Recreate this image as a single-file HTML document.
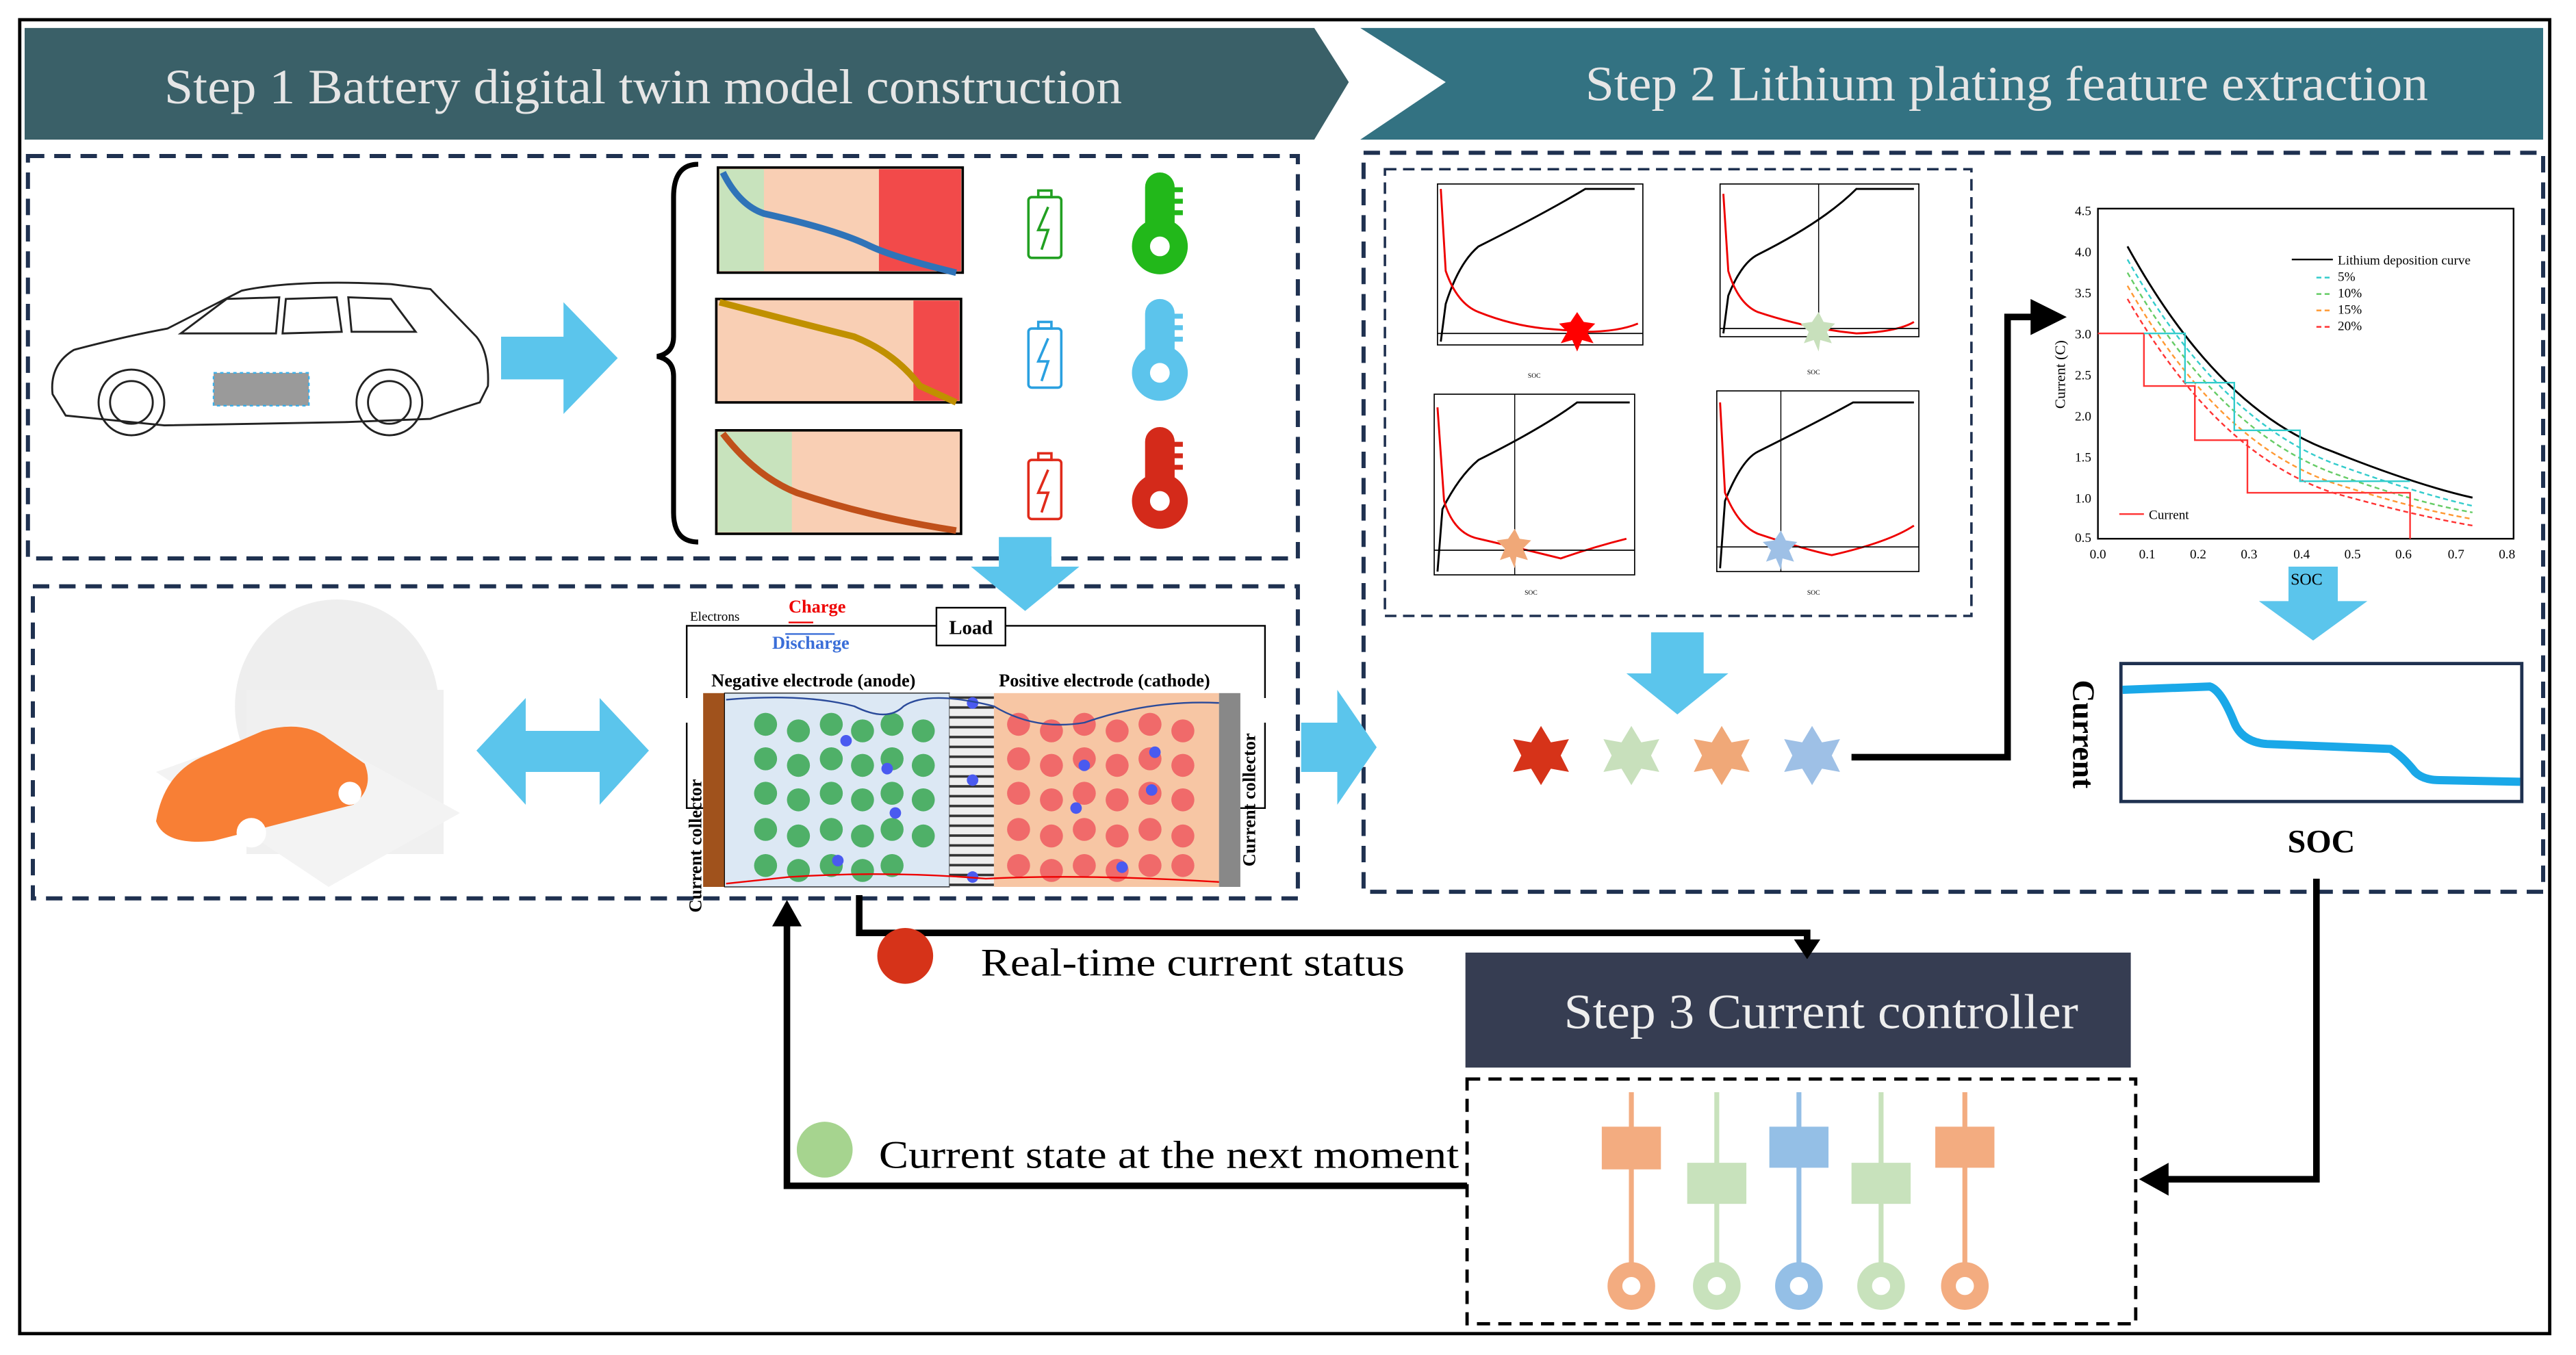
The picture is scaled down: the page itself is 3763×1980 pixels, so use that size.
<!DOCTYPE html>
<html><head><meta charset="utf-8"><style>
html,body{margin:0;padding:0;background:#fff}
svg{display:block}
text{font-family:"Liberation Serif",serif}
</style></head><body>
<svg width="3763" height="1980" viewBox="0 0 1568 825" xmlns="http://www.w3.org/2000/svg">
<defs>
<pattern id="stripes" width="4" height="6" patternUnits="userSpaceOnUse"><rect width="4" height="6" fill="#eee"/><rect y="4" width="4" height="1.5" fill="#333"/></pattern>
</defs>
<rect x="0" y="0" width="1568" height="825" fill="#fff"/>
<rect x="12" y="12" width="1540" height="800" fill="none" stroke="#000" stroke-width="2"/>
<!-- banners -->
<polygon points="15,17 800,17 821,50 800,85 15,85" fill="#3a6068"/>
<text x="100" y="63" font-size="30" fill="#e6e6e6" textLength="583" lengthAdjust="spacingAndGlyphs">Step 1 Battery digital twin model construction</text>
<polygon points="828,17 1548,17 1548,85 828,85 880,50" fill="#337282"/>
<text x="965" y="61" font-size="30" fill="#e6e6e6" textLength="513" lengthAdjust="spacingAndGlyphs">Step 2 Lithium plating feature extraction</text>
<!-- dashed boxes -->
<g fill="none" stroke="#1f3150" stroke-width="2.5" stroke-dasharray="10,6">
<rect x="17" y="95" width="773" height="245"/>
<rect x="20" y="357" width="770" height="190"/>
<rect x="830" y="93" width="718" height="450"/>
<rect x="843" y="103" width="357" height="272" stroke-width="1.5" stroke-dasharray="7,4"/>
</g>
<rect x="893" y="657" width="407" height="149" fill="none" stroke="#000" stroke-width="2" stroke-dasharray="8,5"/>
<!-- car -->
<g fill="none" stroke="#222" stroke-width="1.2">
<path d="M32,240 Q30,222 45,213 Q75,205 102,200 L147,177 Q180,170 238,173 L262,176 L290,205 Q298,215 297,235 L292,245 Q270,252 262,255 L210,257 L100,259 L40,253 Z"/>
<path d="M110,203 L138,182 L170,181 L168,203 Z"/><path d="M174,182 L205,181 L208,202 L172,203 Z"/><path d="M212,181 L238,182 L253,202 L214,202 Z"/>
<circle cx="80" cy="245" r="20"/><circle cx="80" cy="245" r="13"/><circle cx="237" cy="245" r="20"/><circle cx="237" cy="245" r="13"/>
</g>
<rect x="130" y="227" width="58" height="20" fill="#9a9a9a" stroke="#3bb0ea" stroke-dasharray="2,2"/>
<!-- arrow right -->
<polygon points="305,205 343,205 343,184 376,218 343,252 343,231 305,231" fill="#5bc5ec"/>
<!-- brace -->
<path d="M425,100 Q410,100 410,120 L410,205 Q410,215 400,217 Q410,219 410,229 L410,312 Q410,330 425,330" fill="none" stroke="#000" stroke-width="3"/>
<!-- charts -->
<g stroke="#000" stroke-width="1.5">
<rect x="437" y="102" width="149" height="64" fill="#f9cfb4"/>
<rect x="436" y="182" width="149" height="63" fill="#f9cfb4"/>
<rect x="436" y="262" width="149" height="63" fill="#f9cfb4"/>
</g>
<rect x="438" y="103" width="27" height="62" fill="#c8e3bd"/><rect x="535" y="103" width="50" height="62" fill="#f24a4a"/>
<rect x="556" y="183" width="28" height="61" fill="#f24a4a"/>
<rect x="437" y="263" width="45" height="61" fill="#c8e3bd"/>
<path d="M440,105 Q450,125 465,130 Q510,140 530,150 Q545,157 582,166" fill="none" stroke="#2f73b8" stroke-width="4"/>
<path d="M438,184 Q480,195 520,205 Q545,215 560,235 L582,245" fill="none" stroke="#c09000" stroke-width="4"/>
<path d="M440,264 Q460,290 485,300 Q530,315 582,323" fill="none" stroke="#c0501a" stroke-width="4"/>
<!-- batteries -->
<g fill="none" stroke-width="1.5">
<rect x="626" y="120" width="20" height="37" rx="2" stroke="#22a022"/><rect x="632" y="116" width="8" height="4" stroke="#22a022"/><path d="M638,126 L632,140 L638,140 L634,152" stroke="#22a022"/>
<rect x="626" y="200" width="20" height="36" rx="2" stroke="#2aa0e0"/><rect x="632" y="196" width="8" height="4" stroke="#2aa0e0"/><path d="M638,206 L632,220 L638,220 L634,232" stroke="#2aa0e0"/>
<rect x="626" y="280" width="20" height="36" rx="2" stroke="#e02a1a"/><rect x="632" y="276" width="8" height="4" stroke="#e02a1a"/><path d="M638,286 L632,300 L638,300 L634,312" stroke="#e02a1a"/>
</g>
<!-- thermometers -->
<g>
<g fill="#22b81a"><rect x="697" y="105" width="18" height="45" rx="9"/><circle cx="706" cy="150" r="17"/><rect x="713" y="114" width="7" height="3"/><rect x="713" y="121" width="7" height="3"/><rect x="713" y="128" width="7" height="3"/></g><circle cx="706" cy="150" r="6" fill="#fff"/>
<g fill="#5cc4ec"><rect x="697" y="182" width="18" height="45" rx="9"/><circle cx="706" cy="227" r="17"/><rect x="713" y="191" width="7" height="3"/><rect x="713" y="198" width="7" height="3"/><rect x="713" y="205" width="7" height="3"/></g><circle cx="706" cy="227" r="6" fill="#fff"/>
<g fill="#d42a1a"><rect x="697" y="260" width="18" height="45" rx="9"/><circle cx="706" cy="305" r="17"/><rect x="713" y="269" width="7" height="3"/><rect x="713" y="276" width="7" height="3"/><rect x="713" y="283" width="7" height="3"/></g><circle cx="706" cy="305" r="6" fill="#fff"/>
</g>
<!-- down arrow -->
<polygon points="608,327 640,327 640,345 657,345 624,372 591,345 608,345" fill="#5bc5ec"/>
<!-- cloud car image -->
<ellipse cx="205" cy="430" rx="62" ry="65" fill="#eee"/>
<rect x="150" y="420" width="120" height="100" fill="#f0f0f0"/>
<polygon points="95,470 180,440 280,495 200,540" fill="#f3f3f3"/>
<path d="M95,500 Q100,470 125,460 L160,445 Q185,438 200,450 L222,465 Q228,480 215,490 L130,512 Q100,515 95,500Z" fill="#f87f35"/>
<circle cx="153" cy="507" r="9" fill="#fff"/><circle cx="213" cy="483" r="7" fill="#fff"/>
<!-- double arrow -->
<polygon points="290,457 320,425 320,445 365,445 365,425 395,457 365,490 365,470 320,470 320,490" fill="#5bc5ec"/>
<!-- battery schematic -->
<path d="M418,425 L418,381 L570,381 M612,381 L770,381 L770,425" fill="none" stroke="#000"/>
<rect x="570" y="370" width="42" height="23" fill="#fff" stroke="#000"/>
<text x="591" y="386" font-size="12" font-weight="bold" text-anchor="middle">Load</text>
<text x="420" y="378" font-size="8">Electrons</text>
<text x="480" y="373" font-size="11" fill="#e00" font-weight="bold">Charge</text>
<text x="470" y="395" font-size="11" fill="#3a6ed8" font-weight="bold">Discharge</text>
<path d="M495,379 L480,379" stroke="#e00"/><path d="M478,386 L508,386" stroke="#3a6ed8"/>
<text x="433" y="418" font-size="11" font-weight="bold">Negative electrode (anode)</text>
<text x="608" y="418" font-size="11" font-weight="bold">Positive electrode (cathode)</text>
<rect x="428" y="422" width="13" height="118" fill="#a0521c"/>
<rect x="441" y="422" width="137" height="118" fill="#dce8f4" stroke="#000" stroke-width=".5"/>
<rect x="578" y="422" width="27" height="118" fill="url(#stripes)"/>
<rect x="605" y="422" width="137" height="118" fill="#f7c6a4"/>
<rect x="742" y="422" width="13" height="118" fill="#888"/>
<g fill="#4fb068">
<circle cx="466" cy="441" r="7"/><circle cx="486" cy="445" r="7"/><circle cx="506" cy="441" r="7"/><circle cx="525" cy="445" r="7"/><circle cx="543" cy="441" r="7"/><circle cx="562" cy="445" r="7"/>
<circle cx="466" cy="462" r="7"/><circle cx="486" cy="466" r="7"/><circle cx="506" cy="462" r="7"/><circle cx="525" cy="466" r="7"/><circle cx="543" cy="462" r="7"/><circle cx="562" cy="466" r="7"/>
<circle cx="466" cy="483" r="7"/><circle cx="486" cy="487" r="7"/><circle cx="506" cy="483" r="7"/><circle cx="525" cy="487" r="7"/><circle cx="543" cy="483" r="7"/><circle cx="562" cy="487" r="7"/>
<circle cx="466" cy="505" r="7"/><circle cx="486" cy="509" r="7"/><circle cx="506" cy="505" r="7"/><circle cx="525" cy="509" r="7"/><circle cx="543" cy="505" r="7"/><circle cx="562" cy="509" r="7"/>
<circle cx="466" cy="527" r="7"/><circle cx="486" cy="530" r="7"/><circle cx="506" cy="527" r="7"/><circle cx="525" cy="530" r="7"/><circle cx="543" cy="527" r="7"/>
</g>
<g fill="#f06a6a">
<circle cx="620" cy="441" r="7"/><circle cx="640" cy="445" r="7"/><circle cx="660" cy="441" r="7"/><circle cx="680" cy="445" r="7"/><circle cx="700" cy="441" r="7"/><circle cx="720" cy="445" r="7"/>
<circle cx="620" cy="462" r="7"/><circle cx="640" cy="466" r="7"/><circle cx="660" cy="462" r="7"/><circle cx="680" cy="466" r="7"/><circle cx="700" cy="462" r="7"/><circle cx="720" cy="466" r="7"/>
<circle cx="620" cy="483" r="7"/><circle cx="640" cy="487" r="7"/><circle cx="660" cy="483" r="7"/><circle cx="680" cy="487" r="7"/><circle cx="700" cy="483" r="7"/><circle cx="720" cy="487" r="7"/>
<circle cx="620" cy="505" r="7"/><circle cx="640" cy="509" r="7"/><circle cx="660" cy="505" r="7"/><circle cx="680" cy="509" r="7"/><circle cx="700" cy="505" r="7"/><circle cx="720" cy="509" r="7"/>
<circle cx="620" cy="527" r="7"/><circle cx="640" cy="530" r="7"/><circle cx="660" cy="527" r="7"/><circle cx="680" cy="530" r="7"/><circle cx="700" cy="527" r="7"/><circle cx="720" cy="527" r="7"/>
</g>
<g fill="#4a5af0"><circle cx="515" cy="451" r="3.5"/><circle cx="540" cy="468" r="3.5"/><circle cx="545" cy="495" r="3.5"/><circle cx="510" cy="524" r="3.5"/><circle cx="592" cy="428" r="3.5"/><circle cx="592" cy="475" r="3.5"/><circle cx="592" cy="534" r="3.5"/><circle cx="660" cy="466" r="3.5"/><circle cx="703" cy="458" r="3.5"/><circle cx="701" cy="481" r="3.5"/><circle cx="655" cy="492" r="3.5"/><circle cx="683" cy="528" r="3.5"/></g>
<path d="M442,426 Q490,422 520,430 Q540,440 550,430 Q565,420 605,430 Q630,445 660,440 Q700,426 742,428" fill="none" stroke="#2a4a9a"/>
<path d="M442,538 L480,534 Q540,530 600,535 Q660,532 742,537" fill="none" stroke="#e00"/>
<path d="M418,440 L418,492 L428,492 M770,440 L770,492 L755,492" fill="none" stroke="#000"/>
<text transform="translate(427,515) rotate(-90)" font-size="11" font-weight="bold" text-anchor="middle">Current   collector</text>
<text transform="translate(764,487) rotate(-90)" font-size="11" font-weight="bold" text-anchor="middle">Current   collector</text>
<!-- right arrow into step2 -->
<polygon points="792,440 814,440 814,420 838,455 814,490 814,470 792,470" fill="#5bc5ec"/>
<!-- small charts -->
<g font-size="4" fill="#000">
<g>
<rect x="875" y="112" width="125" height="98" fill="none" stroke="#000" stroke-width=".7"/>
<path d="M877,208 L880,185 Q888,160 900,150 Q940,130 965,115 L995,115" fill="none" stroke="#000" stroke-width="1.2"/>
<path d="M877,115 L880,165 Q887,185 900,190 Q920,198 940,200 L965,202 Q985,202 997,197" fill="none" stroke="#e00" stroke-width="1.2"/>
<line x1="875" y1="203" x2="1000" y2="203" stroke="#000" stroke-width=".7"/>
<text x="930" y="230">SOC</text>
<polygon points="960,190 964,196 971,197 966,202 970,209 963,207 960,214 957,207 950,209 954,202 949,197 956,196" fill="#f00"/>
</g>
<g>
<rect x="1047" y="112" width="121" height="93" fill="none" stroke="#000" stroke-width=".7"/>
<path d="M1049,203 L1052,180 Q1060,160 1070,155 Q1110,135 1130,115 L1165,115" fill="none" stroke="#000" stroke-width="1.2"/>
<path d="M1049,118 L1052,165 Q1058,185 1070,190 Q1100,200 1130,203 Q1155,202 1165,196" fill="none" stroke="#e00" stroke-width="1.2"/>
<line x1="1047" y1="200" x2="1168" y2="200" stroke="#000" stroke-width=".7"/><line x1="1107" y1="112" x2="1107" y2="210" stroke="#000" stroke-width=".6"/>
<text x="1100" y="228">SOC</text>
<polygon points="1107,190 1110,196 1117,197 1112,202 1115,209 1108,207 1107,214 1104,207 1098,209 1101,202 1096,197 1103,196" fill="#c8e0bc"/>
</g>
<g>
<rect x="873" y="240" width="122" height="110" fill="none" stroke="#000" stroke-width=".7"/>
<path d="M875,348 L878,310 Q888,290 900,280 Q940,260 960,245 L992,245" fill="none" stroke="#000" stroke-width="1.2"/>
<path d="M875,248 L879,305 Q885,325 900,328 Q930,335 950,340 Q970,333 990,328" fill="none" stroke="#e00" stroke-width="1.2"/>
<line x1="873" y1="335" x2="995" y2="335" stroke="#000" stroke-width=".7"/><line x1="922" y1="240" x2="922" y2="350" stroke="#000" stroke-width=".6"/>
<text x="928" y="362">SOC</text>
<polygon points="922,322 925,328 932,329 927,334 930,341 923,339 922,346 919,339 913,341 916,334 911,329 918,328" fill="#f0a878"/>
</g>
<g>
<rect x="1045" y="238" width="123" height="110" fill="none" stroke="#000" stroke-width=".7"/>
<path d="M1047,346 L1050,305 Q1060,280 1070,275 Q1110,255 1128,245 L1165,245" fill="none" stroke="#000" stroke-width="1.2"/>
<path d="M1047,245 L1050,300 Q1058,320 1070,325 Q1100,335 1115,338 Q1150,330 1165,320" fill="none" stroke="#e00" stroke-width="1.2"/>
<line x1="1045" y1="333" x2="1168" y2="333" stroke="#000" stroke-width=".7"/><line x1="1084" y1="238" x2="1084" y2="348" stroke="#000" stroke-width=".6"/>
<text x="1100" y="362">SOC</text>
<polygon points="1084,323 1087,329 1094,330 1089,335 1092,342 1085,340 1084,347 1081,340 1075,342 1078,335 1073,330 1080,329" fill="#9ec0e6"/>
</g>
</g>
<!-- down arrow step2 -->
<polygon points="1005,385 1037,385 1037,410 1052,410 1021,435 990,410 1005,410" fill="#5bc5ec"/>
<!-- stars -->
<g>
<polygon points="938,442 944,452 955,450 950,460 955,470 944,468 938,478 932,468 921,470 926,460 921,450 932,452" fill="#d63319"/>
<polygon points="993,442 999,452 1010,450 1005,460 1010,470 999,468 993,478 987,468 976,470 981,460 976,450 987,452" fill="#c8e0bc"/>
<polygon points="1048,442 1054,452 1065,450 1060,460 1065,470 1054,468 1048,478 1042,468 1031,470 1036,460 1031,450 1042,452" fill="#f0a878"/>
<polygon points="1103,442 1109,452 1120,450 1115,460 1120,470 1109,468 1103,478 1097,468 1086,470 1091,460 1086,450 1097,452" fill="#9ec0e6"/>
</g>
<!-- connector stars -> chart -->
<path d="M1127,461 L1222,461 L1222,193 L1240,193" fill="none" stroke="#000" stroke-width="4"/>
<polygon points="1236,182 1258,193 1236,204" fill="#000"/>
<!-- right chart -->
<g font-size="8">
<rect x="1277" y="127" width="253" height="201" fill="none" stroke="#000"/>
<text x="1263" y="131">4.5</text><text x="1263" y="156">4.0</text><text x="1263" y="181">3.5</text><text x="1263" y="206">3.0</text><text x="1263" y="231">2.5</text><text x="1263" y="256">2.0</text><text x="1263" y="281">1.5</text><text x="1263" y="306">1.0</text><text x="1263" y="330">0.5</text>
<text x="1272" y="340">0.0</text><text x="1302" y="340">0.1</text><text x="1333" y="340">0.2</text><text x="1364" y="340">0.3</text><text x="1396" y="340">0.4</text><text x="1427" y="340">0.5</text><text x="1458" y="340">0.6</text><text x="1490" y="340">0.7</text><text x="1521" y="340">0.8</text>
<text transform="translate(1257,228) rotate(-90)" text-anchor="middle" font-size="9">Current (C)</text>
<path d="M1295,150 Q1350,250 1420,275 Q1470,295 1505,303" fill="none" stroke="#000" stroke-width="1.2"/>
<path d="M1295,158 Q1350,255 1420,282 Q1470,300 1505,308" fill="none" stroke="#3cc" stroke-dasharray="3,2"/>
<path d="M1295,166 Q1350,262 1420,288 Q1470,306 1505,312" fill="none" stroke="#6c6" stroke-dasharray="3,2"/>
<path d="M1295,174 Q1350,270 1420,294 Q1470,310 1505,316" fill="none" stroke="#f93" stroke-dasharray="3,2"/>
<path d="M1295,182 Q1350,277 1420,300 Q1470,314 1505,320" fill="none" stroke="#f33" stroke-dasharray="3,2"/>
<path d="M1277,203 L1305,203 L1305,235 L1336,235 L1336,268 L1368,268 L1368,300 L1467,300 L1467,328" fill="none" stroke="#f33"/>
<path d="M1305,203 L1330,203 L1330,233 L1360,233 L1360,262 L1400,262 L1400,293 L1467,293" fill="none" stroke="#3cc"/>
<line x1="1395" y1="158" x2="1420" y2="158" stroke="#000"/><text x="1423" y="161">Lithium deposition curve</text>
<line x1="1410" y1="169" x2="1420" y2="169" stroke="#3cc" stroke-dasharray="3,2"/><text x="1423" y="171">5%</text>
<line x1="1410" y1="179" x2="1420" y2="179" stroke="#6c6" stroke-dasharray="3,2"/><text x="1423" y="181">10%</text>
<line x1="1410" y1="189" x2="1420" y2="189" stroke="#f93" stroke-dasharray="3,2"/><text x="1423" y="191">15%</text>
<line x1="1410" y1="199" x2="1420" y2="199" stroke="#f33" stroke-dasharray="3,2"/><text x="1423" y="201">20%</text>
<line x1="1290" y1="313" x2="1305" y2="313" stroke="#f33"/><text x="1308" y="316">Current</text>
</g>
<polygon points="1393,345 1423,345 1423,366 1441,366 1408,390 1375,366 1393,366" fill="#5bc5ec"/>
<text x="1404" y="356" font-size="10" text-anchor="middle">SOC</text>
<rect x="1291" y="404" width="244" height="84" fill="none" stroke="#1f3150" stroke-width="2"/>
<path d="M1292,420 L1345,418 Q1352,420 1360,440 Q1365,452 1380,453 L1455,456 Q1462,460 1470,470 Q1475,475 1485,475 L1534,476" fill="none" stroke="#1aa8e8" stroke-width="5"/>
<text transform="translate(1262,447) rotate(90)" font-size="19" font-weight="bold" text-anchor="middle">Current</text>
<text x="1413" y="519" font-size="20" font-weight="bold" text-anchor="middle">SOC</text>
<!-- connector to step3 -->
<path d="M1410,535 L1410,718 L1318,718" fill="none" stroke="#000" stroke-width="4"/>
<polygon points="1320,708 1302,718 1320,728" fill="#000"/>
<!-- step3 header -->
<rect x="892" y="580" width="405" height="70" fill="#363d52"/>
<text x="952" y="626" font-size="30" fill="#eee" textLength="313" lengthAdjust="spacingAndGlyphs">Step 3 Current controller</text>
<!-- sliders -->
<g stroke-width="3">
<line x1="993" y1="665" x2="993" y2="770" stroke="#f3ac80"/><line x1="1045" y1="665" x2="1045" y2="770" stroke="#c8e2bc"/><line x1="1095" y1="665" x2="1095" y2="770" stroke="#94bfe6"/><line x1="1145" y1="665" x2="1145" y2="770" stroke="#c8e2bc"/><line x1="1196" y1="665" x2="1196" y2="770" stroke="#f3ac80"/>
</g>
<rect x="975" y="686" width="36" height="26" fill="#f3ac80"/><rect x="1027" y="708" width="36" height="25" fill="#c8e2bc"/><rect x="1077" y="686" width="36" height="25" fill="#94bfe6"/><rect x="1127" y="708" width="36" height="25" fill="#c8e2bc"/><rect x="1178" y="686" width="36" height="25" fill="#f3ac80"/>
<g fill="none" stroke-width="9"><circle cx="993" cy="783" r="10" stroke="#f3ac80"/><circle cx="1045" cy="783" r="10" stroke="#c8e2bc"/><circle cx="1095" cy="783" r="10" stroke="#94bfe6"/><circle cx="1145" cy="783" r="10" stroke="#c8e2bc"/><circle cx="1196" cy="783" r="10" stroke="#f3ac80"/></g>
<!-- bottom connectors -->
<path d="M523,545 L523,568 L1100,568 L1100,575" fill="none" stroke="#000" stroke-width="4"/>
<polygon points="1092,572 1100,584 1108,572" fill="#000"/>
<circle cx="551" cy="582" r="17" fill="#d63319"/>
<text x="597" y="594" font-size="24" textLength="258" lengthAdjust="spacingAndGlyphs">Real-time current status</text>
<path d="M893,722 L479,722 L479,562" fill="none" stroke="#000" stroke-width="4"/>
<polygon points="470,564 479,548 488,564" fill="#000"/>
<circle cx="502" cy="700" r="17" fill="#a6d48f"/>
<text x="535" y="711" font-size="24" textLength="353" lengthAdjust="spacingAndGlyphs">Current state at the next moment</text>
</svg>
</body></html>
